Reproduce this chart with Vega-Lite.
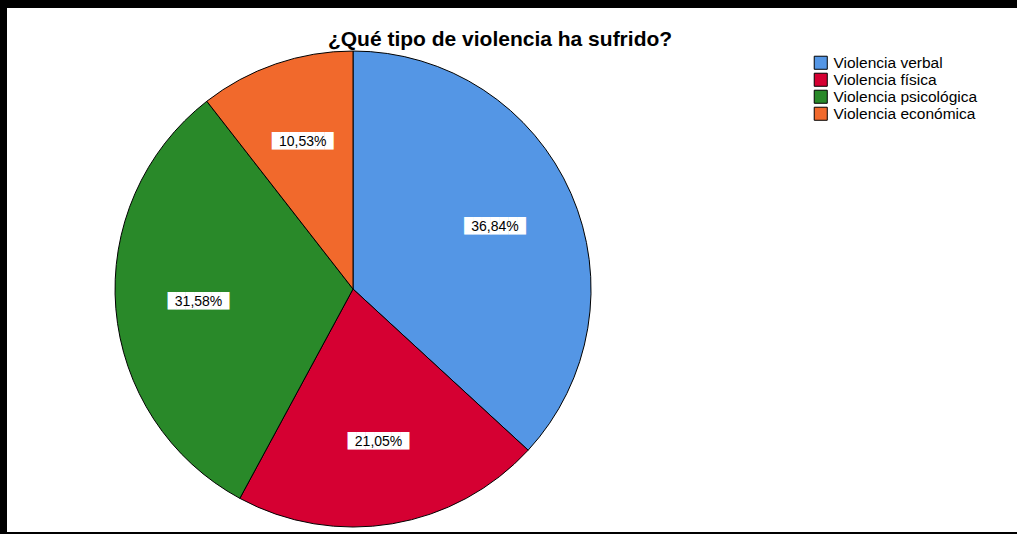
{
  "$schema": "https://vega.github.io/schema/vega-lite/v6.json",
  "width": 1017,
  "height": 534,
  "autosize": {"type": "fit", "contains": "padding"},
  "padding": {"left": 7, "top": 8, "right": 0, "bottom": 2},
  "background": "#000000",
  "view": {"fill": "#ffffff", "stroke": null},
  "config": {
    "locale": {"number": {"decimal": ",", "thousands": ".", "grouping": [3], "currency": ["", " €"]}},
    "font": "Liberation Sans"
  },
  "title": {
    "text": "¿Qué tipo de violencia ha sufrido?",
    "fontSize": 21,
    "fontWeight": "bold",
    "font": "Liberation Sans",
    "color": "#000000",
    "anchor": "middle",
    "offset": -42,
    "dx": -12
  },
  "data": {
    "values": [
      {"tipo": "Violencia verbal", "porcentaje": 0.3684},
      {"tipo": "Violencia física", "porcentaje": 0.2105},
      {"tipo": "Violencia psicológica", "porcentaje": 0.3158},
      {"tipo": "Violencia económica", "porcentaje": 0.1053}
    ]
  },
  "transform": [{"window": [{"op": "row_number", "as": "orden"}]}],
  "encoding": {
    "theta": {"field": "porcentaje", "type": "quantitative", "stack": true},
    "order": {"field": "orden", "type": "quantitative"}
  },
  "layer": [
    {
      "mark": {
        "type": "arc",
        "outerRadius": 238,
        "stroke": "#000000",
        "strokeWidth": 1,
        "x": {"expr": "width*0.3426"},
        "y": {"expr": "height*0.5363"}
      },
      "encoding": {
        "color": {
          "field": "tipo",
          "type": "nominal",
          "scale": {
            "domain": ["Violencia verbal", "Violencia física", "Violencia psicológica", "Violencia económica"],
            "range": ["#5496E5", "#D50032", "#298929", "#F1692C"]
          },
          "legend": {
            "orient": "none",
            "legendX": 806,
            "legendY": 47,
            "title": null,
            "symbolType": "square",
            "symbolSize": 170,
            "symbolStrokeColor": "#000000",
            "symbolStrokeWidth": 1,
            "labelFontSize": 15.5,
            "labelFont": "Liberation Sans",
            "labelColor": "#000000",
            "rowPadding": -2,
            "labelOffset": 5
          }
        }
      }
    },
    {
      "mark": {
        "type": "text",
        "text": "███████",
        "font": "DejaVu Sans Mono",
        "fontSize": 14.6,
        "radius": 155,
        "color": "#ffffff",
        "align": "center",
        "baseline": "middle",
        "x": {"expr": "width*0.3426"},
        "y": {"expr": "height*0.5363"}
      }
    },
    {
      "mark": {
        "type": "text",
        "radius": 155,
        "fontSize": 14,
        "font": "Liberation Sans",
        "color": "#000000",
        "align": "center",
        "baseline": "middle",
        "x": {"expr": "width*0.3426"},
        "y": {"expr": "height*0.5363"}
      },
      "encoding": {
        "text": {"field": "porcentaje", "type": "quantitative", "format": ".2%"}
      }
    }
  ]
}
